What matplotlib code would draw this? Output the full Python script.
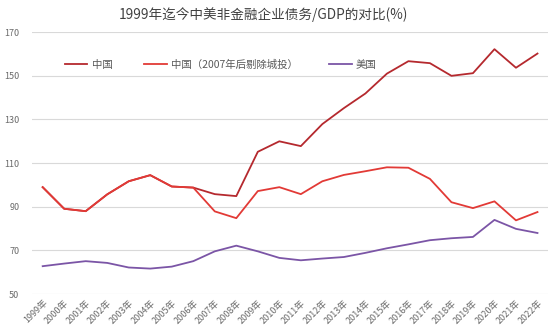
import matplotlib
matplotlib.use("Agg")
import matplotlib.pyplot as plt

plt.rcParams['font.family'] = ['Noto Sans CJK SC', 'DejaVu Sans']

years = [str(y) + "年" for y in range(1999, 2023)]
china = [99, 89.1, 88, 95.7, 101.7, 104.5, 99.3, 98.8, 95.8, 94.9, 115.2, 120,
         117.8, 127.9, 135.2, 141.9, 151, 156.7, 155.8, 150, 151.2, 162.2, 153.7, 160.2]
china_ex = [99, 89.1, 88, 95.7, 101.7, 104.5, 99.3, 98.8, 87.9, 84.8, 97.2, 99,
            95.8, 101.7, 104.6, 106.3, 108.1, 107.9, 102.8, 92.1, 89.4, 92.5, 83.8, 87.6]
usa = [62.8, 64, 65.1, 64.3, 62.2, 61.7, 62.6, 65.1, 69.6, 72.2, 69.6, 66.6,
       65.5, 66.3, 67, 68.9, 71, 72.8, 74.7, 75.6, 76.2, 84, 79.9, 78]
yticks = [50, 70, 90, 110, 130, 150, 170]

fig = plt.figure(figsize=(5.6, 3.35), dpi=100)
ax = fig.add_axes([0.057, 0.122, 0.922, 0.782])
x = list(range(len(years)))
ax.plot(x, china, color='#B5292E', lw=1.3, label='中国')
ax.plot(x, china_ex, color='#E23A36', lw=1.3, label='中国（2007年后剔除城投）')
ax.plot(x, usa, color='#7B55A6', lw=1.3, label='美国')

ax.set_xlim(-0.5, len(years) - 0.5)
ax.set_ylim(50, 170)
ax.set_yticks(yticks)
ax.set_xticks(x)
ax.set_xticklabels(years, rotation=45, ha='right', rotation_mode='anchor')
ax.tick_params(axis='both', length=0, labelsize=6.5, colors='#6A6A6A')
ax.tick_params(axis='x', pad=3)
ax.tick_params(axis='y', pad=9)
ax.grid(axis='y', color='#D9D9D9', lw=0.8)
ax.set_axisbelow(True)
for s in ax.spines.values():
    s.set_visible(False)

fig.suptitle('1999年迄今中美非金融企业债务/GDP的对比(%)', x=0.47, y=0.98,
             fontsize=9.8, color='#404040')
ax.legend(loc='upper left', bbox_to_anchor=(0.045, 0.93), ncol=3, frameon=False,
          fontsize=7.5, labelcolor='#595959', handlelength=2.2, columnspacing=3.0,
          handletextpad=0.4)

fig.savefig('out.png', dpi=100)
